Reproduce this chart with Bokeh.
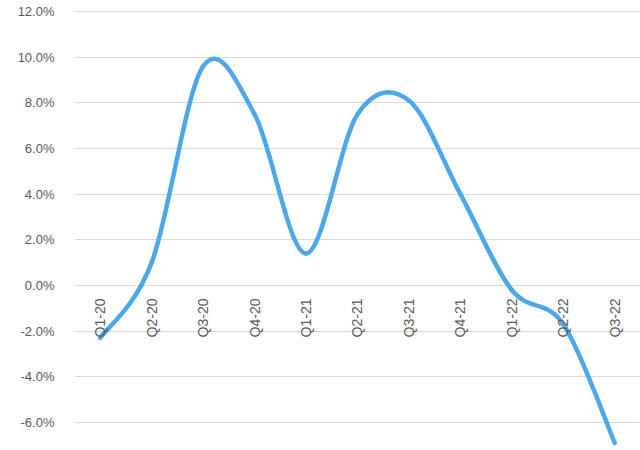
import math
from bokeh.plotting import figure
from bokeh.models import Range1d, LinearAxis, FixedTicker, NumeralTickFormatter, ColumnDataSource
from bokeh.embed import file_html
from bokeh.resources import INLINE

quarters = ["Q1-20", "Q2-20", "Q3-20", "Q4-20", "Q1-21", "Q2-21",
            "Q3-21", "Q4-21", "Q1-22", "Q2-22", "Q3-22"]
growth = [-0.023, 0.010, 0.096, 0.075, 0.014, 0.075,
          0.081, 0.040, -0.002, -0.017, -0.069]
y_ticks = [-0.06, -0.04, -0.02, 0.0, 0.02, 0.04, 0.06, 0.08, 0.10, 0.12]

LABEL = "#595959"
GRID = "#D9D9D9"
LINE = "#4CA8EA"
FONT = "Liberation Sans"

n = len(quarters)
xs = [i + 0.5 for i in range(n)]

p = figure(width=640, height=450, output_backend="svg", toolbar_location=None,
           x_range=Range1d(0, n), y_range=Range1d(-0.07227, 0.12482),
           x_axis_location=None, y_axis_location="left",
           min_border_left=74, min_border_right=0, min_border_top=0, min_border_bottom=0)
p.outline_line_color = None
p.background_fill_color = "white"
p.border_fill_color = "white"

yax = p.yaxis[0]
yax.ticker = FixedTicker(ticks=y_ticks)
yax.formatter = NumeralTickFormatter(format="0.0%")
yax.axis_line_color = None
yax.major_tick_line_color = None
yax.minor_tick_line_color = None
yax.major_label_standoff = 14
yax.major_label_text_font = FONT
yax.major_label_text_font_size = "13px"
yax.major_label_text_color = LABEL

p.xgrid.visible = False
p.ygrid.ticker = FixedTicker(ticks=y_ticks)
p.ygrid.grid_line_color = GRID
p.ygrid.grid_line_width = 1

xax = LinearAxis(fixed_location=0)
xax.ticker = FixedTicker(ticks=xs)
xax.major_label_overrides = {x: q for x, q in zip(xs, quarters)}
xax.major_label_orientation = math.pi / 2
xax.axis_line_color = None
xax.major_tick_line_color = None
xax.minor_tick_line_color = None
xax.major_label_standoff = 7
xax.major_label_text_font = FONT
xax.major_label_text_font_size = "14px"
xax.major_label_text_color = LABEL
p.add_layout(xax, "below")

x0, y0, x1, y1, cx0, cy0, cx1, cy1 = [], [], [], [], [], [], [], []
for i in range(n - 1):
    pm = max(i - 1, 0)
    pp = min(i + 2, n - 1)
    x0.append(xs[i]); y0.append(growth[i])
    x1.append(xs[i + 1]); y1.append(growth[i + 1])
    cx0.append(xs[i] + (xs[i + 1] - xs[pm]) / 6)
    cy0.append(growth[i] + (growth[i + 1] - growth[pm]) / 6)
    cx1.append(xs[i + 1] - (xs[pp] - xs[i]) / 6)
    cy1.append(growth[i + 1] - (growth[pp] - growth[i]) / 6)
src = ColumnDataSource(dict(x0=x0, y0=y0, x1=x1, y1=y1, cx0=cx0, cy0=cy0, cx1=cx1, cy1=cy1))
p.bezier(x0="x0", y0="y0", x1="x1", y1="y1", cx0="cx0", cy0="cy0", cx1="cx1", cy1="cy1",
         source=src, line_color=LINE, line_width=4.5, line_cap="round")

open("out.html", "w").write(file_html(p, INLINE))
